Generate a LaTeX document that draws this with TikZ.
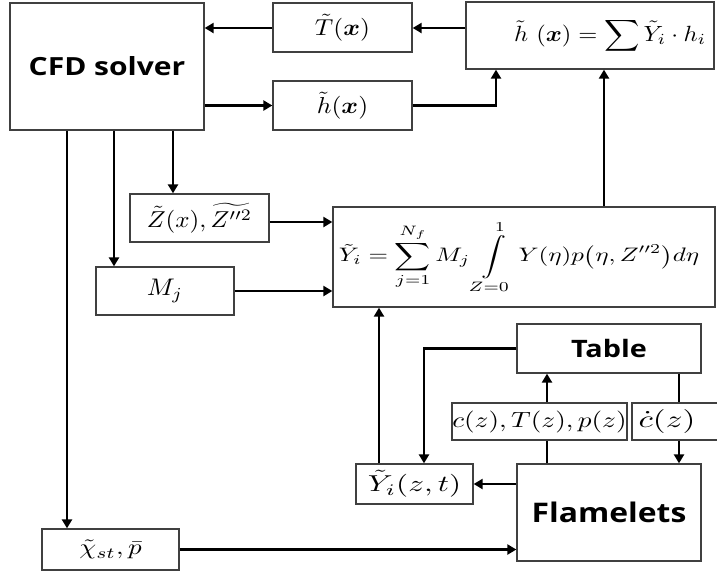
\documentclass[tikz,border=0pt]{standalone}
\usepackage{amsmath,bm}
\usepackage{fontspec}
\newfontfamily\labfont{Open Sans}
\usetikzlibrary{arrows.meta,calc}
\newcommand\msc[3]{\scalebox{#1}[#2]{#3}}
\tikzset{
  box/.style={draw=black!75, line width=1.3pt, inner sep=0pt, fill=white},
  conn/.style={line width=2.8pt, line cap=butt},
  arr/.style={conn, -{Triangle[length=9pt,width=10pt]}},
  big/.style={font=\labfont\bfseries\fontsize{25}{28}\selectfont},
}
\begin{document}
\begin{tikzpicture}[x=1pt,y=-1pt]
\useasboundingbox (0,0) rectangle (717,574);
% boxes
\node[box, minimum width=194pt, minimum height=127pt, big] (cfd) at (107,66.5) {\scalebox{1.2}[1]{CFD solver}};
\node[box, minimum width=139pt, minimum height=49pt] (T) at (342.5,27.5) {\msc{2.55}{2.3}{$\tilde T(\bm{x})$}};
\node[box, minimum width=139pt, minimum height=49pt] (h) at (342.5,105.5) {\msc{2.55}{2.3}{$\tilde h(\bm{x})$}};
\node[box, minimum width=248pt, minimum height=67pt] (sum) at (590,35.5) {\hspace*{40pt}\msc{2.45}{2.2}{$\tilde h\ (\bm{x}) = \displaystyle\sum \tilde Y_i\cdot h_i$}};
\node[box, minimum width=139pt, minimum height=48pt] (Z) at (199.5,218) {\msc{2.5}{2.3}{$\tilde Z(x),\widetilde{Z''^2}$}};
\node[box, minimum width=138pt, minimum height=48pt] (M) at (165,291) {\msc{2.6}{2.4}{$M_j$}};
\node[box, minimum width=382pt, minimum height=100pt] (Y) at (524,257) {\msc{2.5}{1.95}{$\displaystyle \tilde Y_i = \sum_{j=1}^{N_f} M_j \int\limits_{Z=0}^{1} Y(\eta)p\bigl(\eta,Z''^2\bigr)d\eta$}\hspace*{10pt}};
\node[box, minimum width=184pt, minimum height=49pt, font=\labfont\bfseries\fontsize{24}{28}\selectfont] (tab) at (609,348.5) {\scalebox{1.2}[1]{Table}};
\node[box, minimum width=175pt, minimum height=37pt] (c) at (539.5,421.5) {\msc{2.72}{2.2}{$c(z),T(z),p(z)$}};
\node[box, minimum width=90pt, minimum height=37pt] (cd) at (677,421.5) {\msc{3.3}{2.4}{$\dot c(z)$}\hspace*{20pt}};
\node[box, minimum width=184pt, minimum height=97pt, font=\labfont\bfseries\fontsize{27}{30}\selectfont] (fl) at (609,512.5) {\scalebox{1.18}[1]{Flamelets}};
\node[box, minimum width=117pt, minimum height=40pt] (yzt) at (414.5,484) {\msc{3.1}{2.3}{$\tilde Y_i(z,t)$}};
\node[box, minimum width=137pt, minimum height=41pt] (chi) at (110.5,549.5) {\msc{2.7}{2.2}{$\tilde\chi_{st},\bar p$}};
% helper coordinates
\coordinate (x67) at (67,0);
\coordinate (x114) at (114,0);
\coordinate (x173) at (173,0);
\coordinate (x496) at (496,0);
\coordinate (x604) at (604,0);
\coordinate (x379) at (379,0);
\coordinate (x424) at (424,0);
\coordinate (x547) at (547,0);
\coordinate (x679) at (679,0);
\coordinate (y28) at (0,28);
\coordinate (y222) at (0,222);
% connectors
\draw[arr] (sum.west |- y28) -- (T.east |- y28);
\draw[arr] (T.west |- y28) -- (cfd.east |- y28);
\draw[arr] (cfd.east |- h.west) -- (h.west);
\draw[arr] (h.east) -| (x496 |- sum.south);
\draw[arr] (x604 |- Y.north) -- (x604 |- sum.south);
\draw[arr] (x173 |- cfd.south) -- (x173 |- Z.north);
\draw[arr] (x114 |- cfd.south) -- (x114 |- M.north);
\draw[arr] (x67 |- cfd.south) -- (x67 |- chi.north);
\draw[arr] (Z.east |- y222) -- (Y.west |- y222);
\draw[arr] (M.east) -- (M.east -| Y.west);
\draw[arr] (chi.east) -- (chi.east -| fl.west);
\draw[arr] (x379 |- yzt.north) -- (x379 |- Y.south);
\draw[arr] (tab.west) -| (x424 |- yzt.north);
\draw[arr] (fl.west |- yzt.east) -- (yzt.east);
\draw[conn] (x547 |- fl.north) -- (x547 |- c.south);
\draw[arr] (x547 |- c.north) -- (x547 |- tab.south);
\draw[conn] (x679 |- tab.south) -- (x679 |- cd.north);
\draw[arr] (x679 |- cd.south) -- (x679 |- fl.north);
\end{tikzpicture}
\end{document}
